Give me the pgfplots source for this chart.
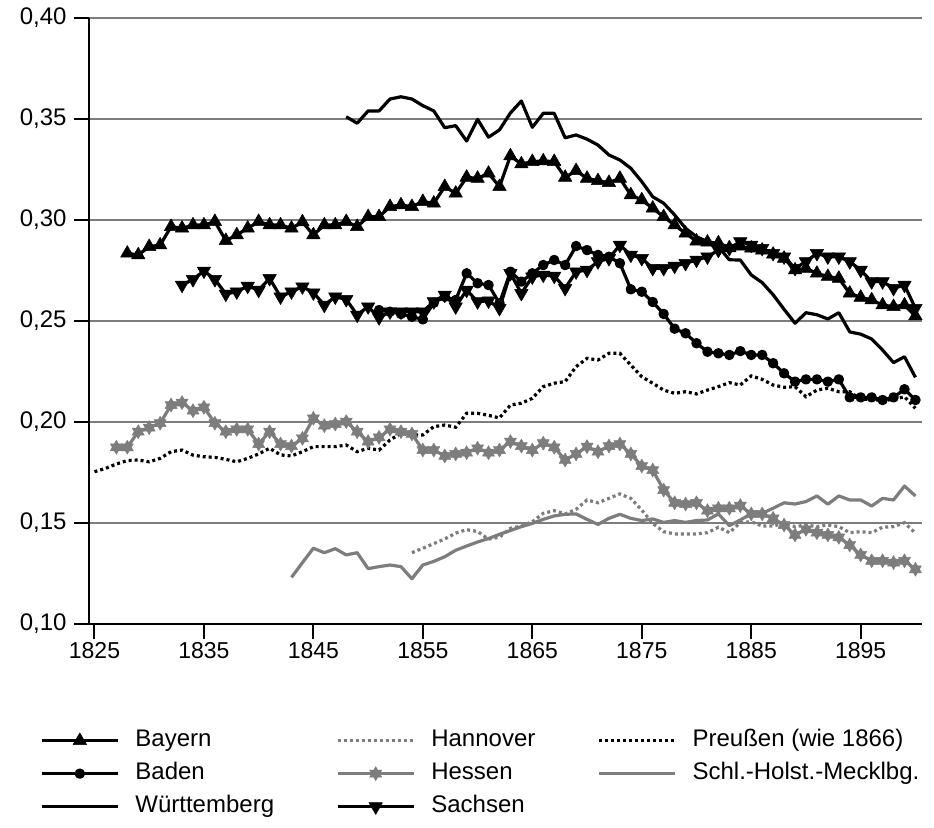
\documentclass[border=0pt]{standalone}
\usepackage{fontspec}
\setmainfont{Liberation Sans}
\usepackage{pgfplots}
\pgfplotsset{compat=1.18}
\usetikzlibrary{plotmarks}
\definecolor{sergray}{RGB}{125,125,125}
\pgfdeclareplotmark{hexstar}{%
  \pgfpathmoveto{\pgfqpointpolar{90}{\pgfplotmarksize}}%
  \pgfpathlineto{\pgfqpointpolar{210}{\pgfplotmarksize}}%
  \pgfpathlineto{\pgfqpointpolar{330}{\pgfplotmarksize}}%
  \pgfpathclose
  \pgfpathmoveto{\pgfqpointpolar{270}{\pgfplotmarksize}}%
  \pgfpathlineto{\pgfqpointpolar{30}{\pgfplotmarksize}}%
  \pgfpathlineto{\pgfqpointpolar{150}{\pgfplotmarksize}}%
  \pgfpathclose
  \pgfusepathqfillstroke
}
\tikzset{
  serline/.style={line width=3.2pt, line join=round},
  serdot/.style={line width=3.2pt, dash pattern=on 3pt off 3pt},
}
\begin{document}
\begin{tikzpicture}
\useasboundingbox (-89pt,-203pt) rectangle (845pt,624pt);
\begin{axis}[
  scale only axis, width=833pt, height=606pt,
  xmin=1824.5, xmax=1900.6, ymin=0.10, ymax=0.40,
  axis x line*=bottom, axis y line*=left,
  axis line style={-, line width=2pt, black},
  xtick={1825,1835,1845,1855,1865,1875,1885,1895},
  ytick={0.10,0.15,0.20,0.25,0.30,0.35,0.40},
  ymajorgrids, major grid style={sergray, line width=1.3pt},
  tick style={black, line width=2pt}, major tick length=15pt, tick align=outside,
  /pgf/number format/assume math mode=true,
  xticklabel style={/pgf/number format/1000 sep={}},
  yticklabel style={/pgf/number format/.cd, fixed, fixed zerofill, precision=2, use comma, /tikz/.cd, xshift=-4pt, font=\fontsize{24}{28}\selectfont},
  xticklabel style={font=\fontsize{23}{27}\selectfont},
  legend columns=3,
  legend cell align=left,
  legend style={draw=none, fill=none, at={(-0.0588,-0.174)}, anchor=north west,
    font=\fontsize{24}{28}\selectfont, inner sep=0pt, row sep=11pt,
    nodes={text height=17pt, text depth=5pt, inner sep=0pt},
    /tikz/every odd column/.append style={column sep=16pt},
    /tikz/every even column/.append style={column sep=62pt}},
  legend image code/.code={\draw[mark repeat=2,mark phase=2,#1] plot coordinates {(0pt,0pt) (38pt,0pt) (76pt,0pt)};},
]
% Bayern
\addplot[black, serline, mark=triangle*, mark size=7.8pt, mark options={solid, line width=0.5pt}] table {
1828 .2835
1829 .2827
1830 .2868
1831 .2876
1832 .2967
1833 .2959
1834 .2975
1835 .2975
1836 .2992
1837 .2898
1838 .2926
1839 .2959
1840 .2992
1841 .2975
1842 .2975
1843 .2959
1844 .2990
1845 .2926
1846 .2975
1847 .2975
1848 .2992
1849 .2967
1850 .3016
1851 .3016
1852 .3066
1853 .3074
1854 .3066
1855 .3091
1856 .3083
1857 .3165
1858 .3132
1859 .3211
1860 .3206
1861 .3231
1862 .3165
1863 .3317
1864 .3277
1865 .3289
1866 .3292
1867 .3289
1868 .3211
1869 .3244
1870 .3206
1871 .3194
1872 .3185
1873 .3206
1874 .3124
1875 .3099
1876 .3058
1877 .3016
1878 .2975
1879 .2934
1880 .2895
1881 .2890
1882 .2886
1883 .2862
1884 .2870
1885 .2860
1886 .2850
1887 .2830
1888 .2810
1889 .2752
1890 .2760
1891 .2736
1892 .2720
1893 .2711
1894 .2637
1895 .2617
1896 .2604
1897 .2579
1898 .2571
1899 .2579
1900 .2525
};
\addlegendentry{Bayern}
% Hannover
\addplot[sergray, serdot] table {
1854 .1353
1855 .1375
1856 .1398
1857 .1421
1858 .1450
1859 .1467
1860 .1458
1861 .1420
1862 .1430
1863 .1474
1864 .1485
1865 .1506
1866 .1548
1867 .1561
1868 .1545
1869 .1568
1870 .1614
1871 .1600
1872 .1622
1873 .1644
1874 .1622
1875 .1564
1876 .1498
1877 .1457
1878 .1446
1879 .1446
1880 .1446
1881 .1452
1882 .1479
1883 .1452
1884 .1502
1885 .1506
1886 .1485
1887 .1485
1888 .1498
1889 .1482
1890 .1490
1891 .1482
1892 .1490
1893 .1482
1894 .1452
1895 .1457
1896 .1452
1897 .1479
1898 .1482
1899 .1502
1900 .1449
};
\addlegendentry{Hannover}
% Preussen
\addplot[black, serdot] table {
1825 .1754
1826 .1770
1827 .1792
1828 .1809
1829 .1812
1830 .1803
1831 .1820
1832 .1853
1833 .1861
1834 .1836
1835 .1828
1836 .1825
1837 .1815
1838 .1803
1839 .1820
1840 .1842
1841 .1870
1842 .1837
1843 .1832
1844 .1853
1845 .1878
1846 .1878
1847 .1878
1848 .1886
1849 .1853
1850 .1870
1851 .1861
1852 .1911
1853 .1944
1854 .1936
1855 .1936
1856 .1977
1857 .1985
1858 .1974
1859 .2043
1860 .2043
1861 .2033
1862 .2020
1863 .2084
1864 .2093
1865 .2117
1866 .2175
1867 .2192
1868 .2200
1869 .2274
1870 .2315
1871 .2307
1872 .2340
1873 .2340
1874 .2282
1875 .2224
1876 .2192
1877 .2158
1878 .2142
1879 .2150
1880 .2139
1881 .2158
1882 .2175
1883 .2195
1884 .2183
1885 .2228
1886 .2211
1887 .2183
1888 .2172
1889 .2175
1890 .2125
1891 .2158
1892 .2167
1893 .2150
1894 .2150
1895 .2112
1896 .2112
1897 .2106
1898 .2112
1899 .2125
1900 .2068
};
\addlegendentry{Preußen (wie 1866)}
% Baden
\addplot[black, serline, mark=*, mark size=3.6pt, mark options={solid}] table {
1851 .2554
1852 .2546
1853 .2535
1854 .2521
1855 .2508
1856 .2590
1857 .2620
1858 .2604
1859 .2736
1860 .2687
1861 .2678
1862 .2588
1863 .2744
1864 .2695
1865 .2736
1866 .2777
1867 .2802
1868 .2777
1869 .2871
1870 .2851
1871 .2827
1872 .2818
1873 .2786
1874 .2657
1875 .2645
1876 .2594
1877 .2535
1878 .2462
1879 .2439
1880 .2390
1881 .2348
1882 .2340
1883 .2332
1884 .2351
1885 .2332
1886 .2332
1887 .2291
1888 .2241
1889 .2200
1890 .2211
1891 .2211
1892 .2200
1893 .2211
1894 .2122
1895 .2122
1896 .2122
1897 .2109
1898 .2122
1899 .2162
1900 .2109
};
\addlegendentry{Baden}
% Hessen
\addplot[sergray, serline, mark=hexstar, mark size=7pt, mark options={solid, fill=sergray, line width=0.5pt}] table {
1827 .1875
1828 .1875
1829 .1952
1830 .1972
1831 .1994
1832 .2084
1833 .2096
1834 .2056
1835 .2073
1836 .1994
1837 .1952
1838 .1964
1839 .1964
1840 .1891
1841 .1952
1842 .1891
1843 .1881
1844 .1919
1845 .2018
1846 .1982
1847 .1990
1848 .2002
1849 .1952
1850 .1903
1851 .1924
1852 .1964
1853 .1952
1854 .1941
1855 .1861
1856 .1861
1857 .1832
1858 .1842
1859 .1848
1860 .1870
1861 .1848
1862 .1861
1863 .1903
1864 .1881
1865 .1861
1866 .1895
1867 .1875
1868 .1812
1869 .1842
1870 .1878
1871 .1853
1872 .1881
1873 .1891
1874 .1842
1875 .1782
1876 .1762
1877 .1663
1878 .1600
1879 .1594
1880 .1600
1881 .1561
1882 .1573
1883 .1573
1884 .1586
1885 .1545
1886 .1545
1887 .1523
1888 .1490
1889 .1441
1890 .1469
1891 .1452
1892 .1441
1893 .1429
1894 .1391
1895 .1342
1896 .1313
1897 .1313
1898 .1304
1899 .1313
1900 .1271
};
\addlegendentry{Hessen}
% Schl.-Holst.-Mecklbg.
\addplot[sergray, serline] table {
1843 .1231
1844 .1304
1845 .1375
1846 .1353
1847 .1373
1848 .1342
1849 .1353
1850 .1274
1851 .1284
1852 .1292
1853 .1284
1854 .1224
1855 .1292
1856 .1310
1857 .1333
1858 .1365
1859 .1386
1860 .1406
1861 .1423
1862 .1444
1863 .1463
1864 .1482
1865 .1498
1866 .1518
1867 .1535
1868 .1543
1869 .1545
1870 .1518
1871 .1493
1872 .1523
1873 .1543
1874 .1523
1875 .1512
1876 .1520
1877 .1503
1878 .1512
1879 .1503
1880 .1512
1881 .1515
1882 .1545
1883 .1487
1884 .1515
1885 .1545
1886 .1548
1887 .1573
1888 .1600
1889 .1594
1890 .1606
1891 .1634
1892 .1593
1893 .1634
1894 .1614
1895 .1614
1896 .1584
1897 .1622
1898 .1614
1899 .1683
1900 .1634
};
\addlegendentry{Schl.-Holst.-Mecklbg.}
% Wuerttemberg
\addplot[black, serline] table {
1848 .3511
1849 .3479
1850 .3540
1851 .3540
1852 .3599
1853 .3610
1854 .3599
1855 .3566
1856 .3540
1857 .3457
1858 .3467
1859 .3391
1860 .3498
1861 .3410
1862 .3446
1863 .3530
1864 .3589
1865 .3459
1866 .3528
1867 .3528
1868 .3407
1869 .3421
1870 .3400
1871 .3371
1872 .3322
1873 .3297
1874 .3256
1875 .3190
1876 .3115
1877 .3083
1878 .3025
1879 .2959
1880 .2917
1881 .2893
1882 .2868
1883 .2803
1884 .2802
1885 .2728
1886 .2690
1887 .2630
1888 .2558
1889 .2489
1890 .2541
1891 .2531
1892 .2510
1893 .2541
1894 .2446
1895 .2435
1896 .2411
1897 .2356
1898 .2294
1899 .2323
1900 .2221
};
\addlegendentry{Württemberg}
% Sachsen
\addplot[black, serline, mark=triangle*, mark size=7.8pt, mark options={solid, rotate=180, line width=0.5pt}] table {
1833 .2678
1834 .2706
1835 .2748
1836 .2706
1837 .2634
1838 .2645
1839 .2673
1840 .2653
1841 .2711
1842 .2620
1843 .2645
1844 .2670
1845 .2640
1846 .2579
1847 .2620
1848 .2607
1849 .2530
1850 .2571
1851 .2517
1852 .2546
1853 .2546
1854 .2546
1855 .2546
1856 .2596
1857 .2629
1858 .2571
1859 .2653
1860 .2596
1861 .2600
1862 .2563
1863 .2736
1864 .2637
1865 .2719
1866 .2728
1867 .2723
1868 .2662
1869 .2744
1870 .2752
1871 .2794
1872 .2810
1873 .2876
1874 .2827
1875 .2810
1876 .2761
1877 .2761
1878 .2772
1879 .2786
1880 .2802
1881 .2818
1882 .2851
1883 .2860
1884 .2893
1885 .2876
1886 .2860
1887 .2835
1888 .2818
1889 .2761
1890 .2794
1891 .2835
1892 .2818
1893 .2818
1894 .2794
1895 .2752
1896 .2695
1897 .2695
1898 .2662
1899 .2678
1900 .2563
};
\addlegendentry{Sachsen}
\end{axis}
\end{tikzpicture}
\end{document}
